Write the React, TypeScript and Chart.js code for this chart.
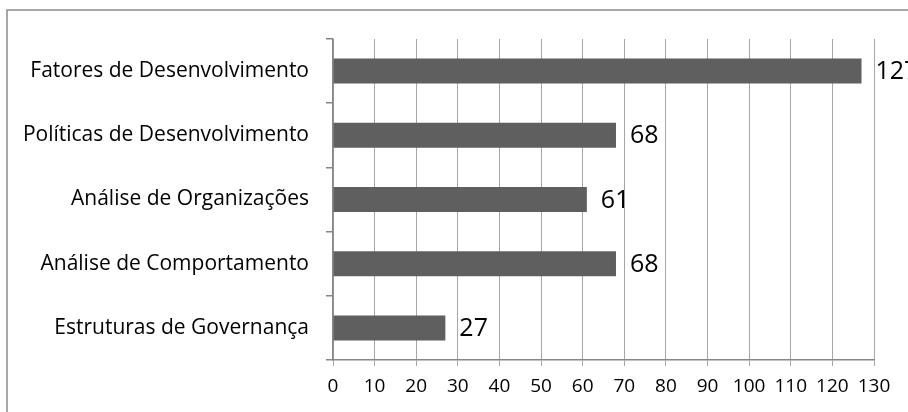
import React, { useEffect, useRef } from "react";
import { Chart, registerables } from "chart.js";

Chart.register(...registerables);

const categories = [
  "Fatores de Desenvolvimento",
  "Políticas de Desenvolvimento",
  "Análise de Organizações",
  "Análise de Comportamento",
  "Estruturas de Governança",
];
const values = [127, 68, 61, 68, 27];
const xMin = 0;
const xMax = 130;
const xStep = 10;

const FONT = "'Open Sans', sans-serif";

const framePlugin = {
  id: "frame",
  beforeDraw(chart: any) {
    const ctx = chart.ctx;
    ctx.save();
    ctx.fillStyle = "#ffffff";
    ctx.fillRect(0, 0, chart.width, chart.height);
    ctx.strokeStyle = "#8c8c8c";
    ctx.lineWidth = 1.5;
    ctx.beginPath();
    ctx.moveTo(7, chart.height + 2);
    ctx.lineTo(7, 10);
    ctx.lineTo(chart.width + 2, 10);
    ctx.stroke();
    ctx.restore();
  },
};

const labelPlugin = {
  id: "valueLabels",
  afterDatasetsDraw(chart: any) {
    const ctx = chart.ctx;
    const meta = chart.getDatasetMeta(0);
    ctx.save();
    ctx.fillStyle = "#000000";
    ctx.font = `25px ${FONT}`;
    ctx.textAlign = "left";
    ctx.textBaseline = "middle";
    meta.data.forEach((el: any, i: number) => {
      ctx.fillText(String(chart.data.datasets[0].data[i]), el.x + 14, el.y + 1);
    });
    ctx.restore();
  },
};

export default function App() {
  const ref = useRef<HTMLCanvasElement>(null);
  useEffect(() => {
    if (!ref.current) return;
    const chart = new Chart(ref.current, {
      type: "bar",
      data: {
        labels: categories,
        datasets: [
          {
            data: values,
            backgroundColor: "#5f5f5f",
            borderWidth: 0,
            barPercentage: 0.39,
            categoryPercentage: 1,
          },
        ],
      },
      options: {
        indexAxis: "y",
        animation: false,
        responsive: false,
        maintainAspectRatio: false,
        layout: { padding: { top: 39, right: 34, left: 0, bottom: 0 } },
        plugins: {
          legend: { display: false },
          tooltip: { enabled: false },
          title: { display: false },
        },
        scales: {
          x: {
            type: "linear",
            min: xMin,
            max: xMax,
            ticks: {
              stepSize: xStep,
              color: "#000000",
              font: { family: FONT, size: 19 },
              padding: 9,
              maxRotation: 0,
            },
            grid: {
              color: "#a6a6a6",
              lineWidth: 1,
              tickLength: 6,
              drawTicks: true,
            },
            border: { display: true, color: "#868686", width: 1.5 },
            afterFit(scale: any) {
              scale.height = 52;
            },
          },
          y: {
            type: "category",
            ticks: {
              color: "#000000",
              font: { family: FONT, size: 21 },
              padding: 17,
            },
            grid: {
              drawOnChartArea: false,
              drawTicks: true,
              tickLength: 7,
              color: "#868686",
              offset: true,
              lineWidth: 1.5,
            },
            border: { display: true, color: "#868686", width: 1.5 },
            afterFit(scale: any) {
              scale.width = 333;
            },
          },
        },
      },
      plugins: [framePlugin, labelPlugin],
    });
    return () => chart.destroy();
  }, []);
  return (
    <div style={{ position: "fixed", left: 0, top: 0, width: 908, height: 412, overflow: "hidden" }}>
      <canvas ref={ref} width={908} height={412} style={{ display: "block" }} />
    </div>
  );
}
